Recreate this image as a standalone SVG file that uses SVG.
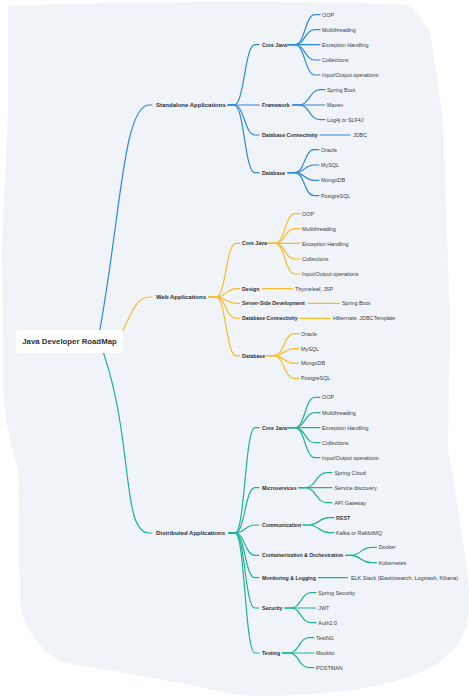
<svg xmlns="http://www.w3.org/2000/svg" width="469" height="696" viewBox="0 0 469 696">
<style>
.bg{fill:#f0f3f7}
.c{fill:none;stroke-width:1.2;stroke-linecap:round;stroke-linejoin:round}
.b{stroke:#2f88e0}.y{stroke:#f6bd2a}.g{stroke:#1db39a}
text{font-family:"Liberation Sans",Arial,sans-serif;dominant-baseline:central}
.t0{font-size:7.8px;font-weight:bold;fill:#2b3038}
.t1{font-size:6px;font-weight:bold;fill:#2b3038}
.t2{font-size:5.2px;font-weight:bold;fill:#2b3038}
.t3{font-size:5.4px;fill:#363f4a}
</style>
<path class="bg" d="M8 6 C100 2 300 0 410 5 L430 30 L443 120 L450 320 L448 450 L455 490 L465 555 L469 590 L469 615 C466 640 452 652 440 662 C400 688 330 696 250 696 L232 694 C180 682 120 672 60 662 C35 645 22 625 20 600 L18 470 C10 440 4 420 3 380 L2 250 C4 180 8 140 8 100 Z"/>
<g id="connectors">
<path class="c b" d="M97 345 C120 230 122 105 149 105 H152"/>
<path class="c y" d="M118 340 C130 318 135 297 149 297 H152"/>
<path class="c g" d="M98 338 C135 430 120 533 149 533 H152"/>
<g class="c b">
<path d="M228 105 H234 C244.5 105 244.5 44.7 255 44.7 H259"/>
<path d="M228 105 H259"/>
<path d="M228 105 H234 C244.5 105 244.5 135 255 135 H259"/>
<path d="M228 105 H234 C244.5 105 244.5 172.7 255 172.7 H259"/>
<path d="M288 44.7 H295 C305 44.7 305 14.7 315 14.7 H320"/>
<path d="M288 44.7 H295 C305 44.7 305 29.7 315 29.7 H320"/>
<path d="M288 44.7 H320"/>
<path d="M288 44.7 H295 C305 44.7 305 60 315 60 H320"/>
<path d="M288 44.7 H295 C305 44.7 305 75 315 75 H320"/>
<path d="M292.5 105 H299 C309.5 105 309.5 89.7 320 89.7 H325"/>
<path d="M292.5 105 H325"/>
<path d="M292.5 105 H299 C309.5 105 309.5 119.7 320 119.7 H325"/>
<path d="M320 135 H350"/>
<path d="M288 172.7 H295 C304.5 172.7 304.5 149.7 314 149.7 H319"/>
<path d="M288 172.7 H295 C304.5 172.7 304.5 165 314 165 H319"/>
<path d="M288 172.7 H295 C304.5 172.7 304.5 180.3 314 180.3 H319"/>
<path d="M288 172.7 H295 C304.5 172.7 304.5 195.7 314 195.7 H319"/>
</g>
<g class="c y">
<path d="M209 297 H216 C226 297 226 243.3 236 243.3 H239.5"/>
<path d="M209 297 H216 C226 297 226 288.7 236 288.7 H239.5"/>
<path d="M209 297 H216 C226 297 226 303.3 236 303.3 H239.5"/>
<path d="M209 297 H216 C226 297 226 318.3 236 318.3 H239.5"/>
<path d="M209 297 H216 C226 297 226 355.7 236 355.7 H239.5"/>
<path d="M268 243.3 H275 C285 243.3 285 213.7 295 213.7 H300"/>
<path d="M268 243.3 H275 C285 243.3 285 228.7 295 228.7 H300"/>
<path d="M268 243.3 H300"/>
<path d="M268 243.3 H275 C285 243.3 285 259 295 259 H300"/>
<path d="M268 243.3 H275 C285 243.3 285 274 295 274 H300"/>
<path d="M262.5 288.7 H292.5"/>
<path d="M308 303.3 H339.5"/>
<path d="M300 318.3 H330.5"/>
<path d="M267 355.7 H274 C284 355.7 284 333.7 294 333.7 H299"/>
<path d="M267 355.7 H274 C284 355.7 284 348.7 294 348.7 H299"/>
<path d="M267 355.7 H274 C284 355.7 284 363.3 294 363.3 H299"/>
<path d="M267 355.7 H274 C284 355.7 284 378.3 294 378.3 H299"/>
</g>
<g class="c g">
<path d="M229 533 H235 C245 533 245 427.7 255 427.7 H259"/>
<path d="M229 533 H235 C245 533 245 487.7 255 487.7 H259"/>
<path d="M229 533 H235 C245 533 245 525 255 525 H259"/>
<path d="M229 533 H235 C245 533 245 555.3 255 555.3 H259"/>
<path d="M229 533 H235 C245 533 245 577.7 255 577.7 H259"/>
<path d="M229 533 H235 C245 533 245 608 255 608 H259"/>
<path d="M229 533 H235 C245 533 245 653 255 653 H259"/>
<path d="M288 427.7 H295 C305 427.7 305 397.3 315 397.3 H320"/>
<path d="M288 427.7 H295 C305 427.7 305 412.7 315 412.7 H320"/>
<path d="M288 427.7 H320"/>
<path d="M288 427.7 H295 C305 427.7 305 442.7 315 442.7 H320"/>
<path d="M288 427.7 H295 C305 427.7 305 457.7 315 457.7 H320"/>
<path d="M299 487.7 H305 C316 487.7 316 472.7 327 472.7 H332"/>
<path d="M299 487.7 H332"/>
<path d="M299 487.7 H305 C316 487.7 316 502.7 327 502.7 H332"/>
<path d="M303 525 H309 C319 525 319 517.7 329 517.7 H334"/>
<path d="M303 525 H309 C319 525 319 532.7 329 532.7 H334"/>
<path d="M345.5 555.3 H351 C361 555.3 361 547.3 371.5 547.3 H376.5"/>
<path d="M345.5 555.3 H351 C361 555.3 361 562.7 371.5 562.7 H376.5"/>
<path d="M318.5 577.7 H347.5"/>
<path d="M285 608 H291 C301 608 301 592.7 311 592.7 H316"/>
<path d="M285 608 H316"/>
<path d="M285 608 H291 C301 608 301 622.7 311 622.7 H316"/>
<path d="M282.5 653 H289 C299 653 299 637.7 309 637.7 H314"/>
<path d="M282.5 653 H314"/>
<path d="M282.5 653 H289 C299 653 299 667.7 309 667.7 H314"/>
</g>
</g>
<g id="root">
<rect x="16" y="330" width="107" height="23" rx="2.5" fill="#ffffff"/>
<text class="t0" x="69.5" y="341.5" text-anchor="middle">Java Developer RoadMap</text>
</g>
<g id="standalone">
<text class="t1" x="156" y="105">Standalone Applications</text>
<g id="sa-core"><text class="t2" x="262" y="44.7">Core Java</text>
<text class="t3" x="322" y="14.7">OOP</text><text class="t3" x="322" y="29.7">Multithreading</text><text class="t3" x="322" y="44.7">Exception Handling</text><text class="t3" x="322" y="60">Collections</text><text class="t3" x="322" y="75">Input/Output operations</text></g>
<g id="sa-framework"><text class="t2" x="262" y="105">Framework</text>
<text class="t3" x="327" y="89.7">Spring Boot</text><text class="t3" x="327" y="105">Maven</text><text class="t3" x="327" y="119.7">Log4j or SLF4J</text></g>
<g id="sa-dbc"><text class="t2" x="262" y="135">Database Connectivity</text><text class="t3" x="353" y="135">JDBC</text></g>
<g id="sa-db"><text class="t2" x="262" y="172.7">Database</text>
<text class="t3" x="321" y="149.7">Oracle</text><text class="t3" x="321" y="165">MySQL</text><text class="t3" x="321" y="180.3">MongoDB</text><text class="t3" x="321" y="195.7">PostgreSQL</text></g>
</g>
<g id="web">
<text class="t1" x="156" y="297">Web Applications</text>
<g id="web-core"><text class="t2" x="242" y="243.3">Core Java</text>
<text class="t3" x="302" y="213.7">OOP</text><text class="t3" x="302" y="228.7">Multithreading</text><text class="t3" x="302" y="243.7">Exception Handling</text><text class="t3" x="302" y="259">Collections</text><text class="t3" x="302" y="274">Input/Output operations</text></g>
<g id="web-design"><text class="t2" x="242" y="288.7">Design</text><text class="t3" x="295" y="288.7">Thymeleaf, JSP</text></g>
<g id="web-ssd"><text class="t2" x="242" y="303.3">Server-Side Development</text><text class="t3" x="342" y="303.3">Spring Boot</text></g>
<g id="web-dbc"><text class="t2" x="242" y="318.3">Database Connectivity</text><text class="t3" x="333" y="318.3">Hibernate, JDBCTemplate</text></g>
<g id="web-db"><text class="t2" x="242" y="355.7">Database</text>
<text class="t3" x="301" y="333.7">Oracle</text><text class="t3" x="301" y="348.7">MySQL</text><text class="t3" x="301" y="363.3">MongoDB</text><text class="t3" x="301" y="378.3">PostgreSQL</text></g>
</g>
<g id="distributed">
<text class="t1" x="156" y="533">Distributed Applications</text>
<g id="da-core"><text class="t2" x="262" y="427.7">Core Java</text>
<text class="t3" x="322" y="397.3">OOP</text><text class="t3" x="322" y="412.7">Multithreading</text><text class="t3" x="322" y="427.7">Exception Handling</text><text class="t3" x="322" y="442.7">Collections</text><text class="t3" x="322" y="457.7">Input/Output operations</text></g>
<g id="da-micro"><text class="t2" x="262" y="487.7">Microservices</text>
<text class="t3" x="334.5" y="472.7">Spring Cloud</text><text class="t3" x="334.5" y="487.7">Service discovery</text><text class="t3" x="334.5" y="502.7">API Gateway</text></g>
<g id="da-comm"><text class="t2" x="262" y="525">Communication</text>
<text class="t3" x="336" y="517.7" font-weight="bold">REST</text><text class="t3" x="336" y="532.7">Kafka or RabbitMQ</text></g>
<g id="da-cont"><text class="t2" x="262" y="555.3">Containerization &amp; Orchestration</text>
<text class="t3" x="378.7" y="547.3">Docker</text><text class="t3" x="378.7" y="562.7">Kubernetes</text></g>
<g id="da-mon"><text class="t2" x="262" y="577.7">Monitoring &amp; Logging</text><text class="t3" x="351" y="577.7">ELK Stack (Elasticsearch, Logstash, Kibana)</text></g>
<g id="da-sec"><text class="t2" x="262" y="608">Security</text>
<text class="t3" x="318.3" y="592.7">Spring Security</text><text class="t3" x="318.3" y="608">JWT</text><text class="t3" x="318.3" y="622.7">Auth2.0</text></g>
<g id="da-test"><text class="t2" x="262" y="653">Testing</text>
<text class="t3" x="316" y="637.7">TestNG</text><text class="t3" x="316" y="652.7">Mockito</text><text class="t3" x="316" y="667.7">POSTMAN</text></g>
</g>
</svg>
